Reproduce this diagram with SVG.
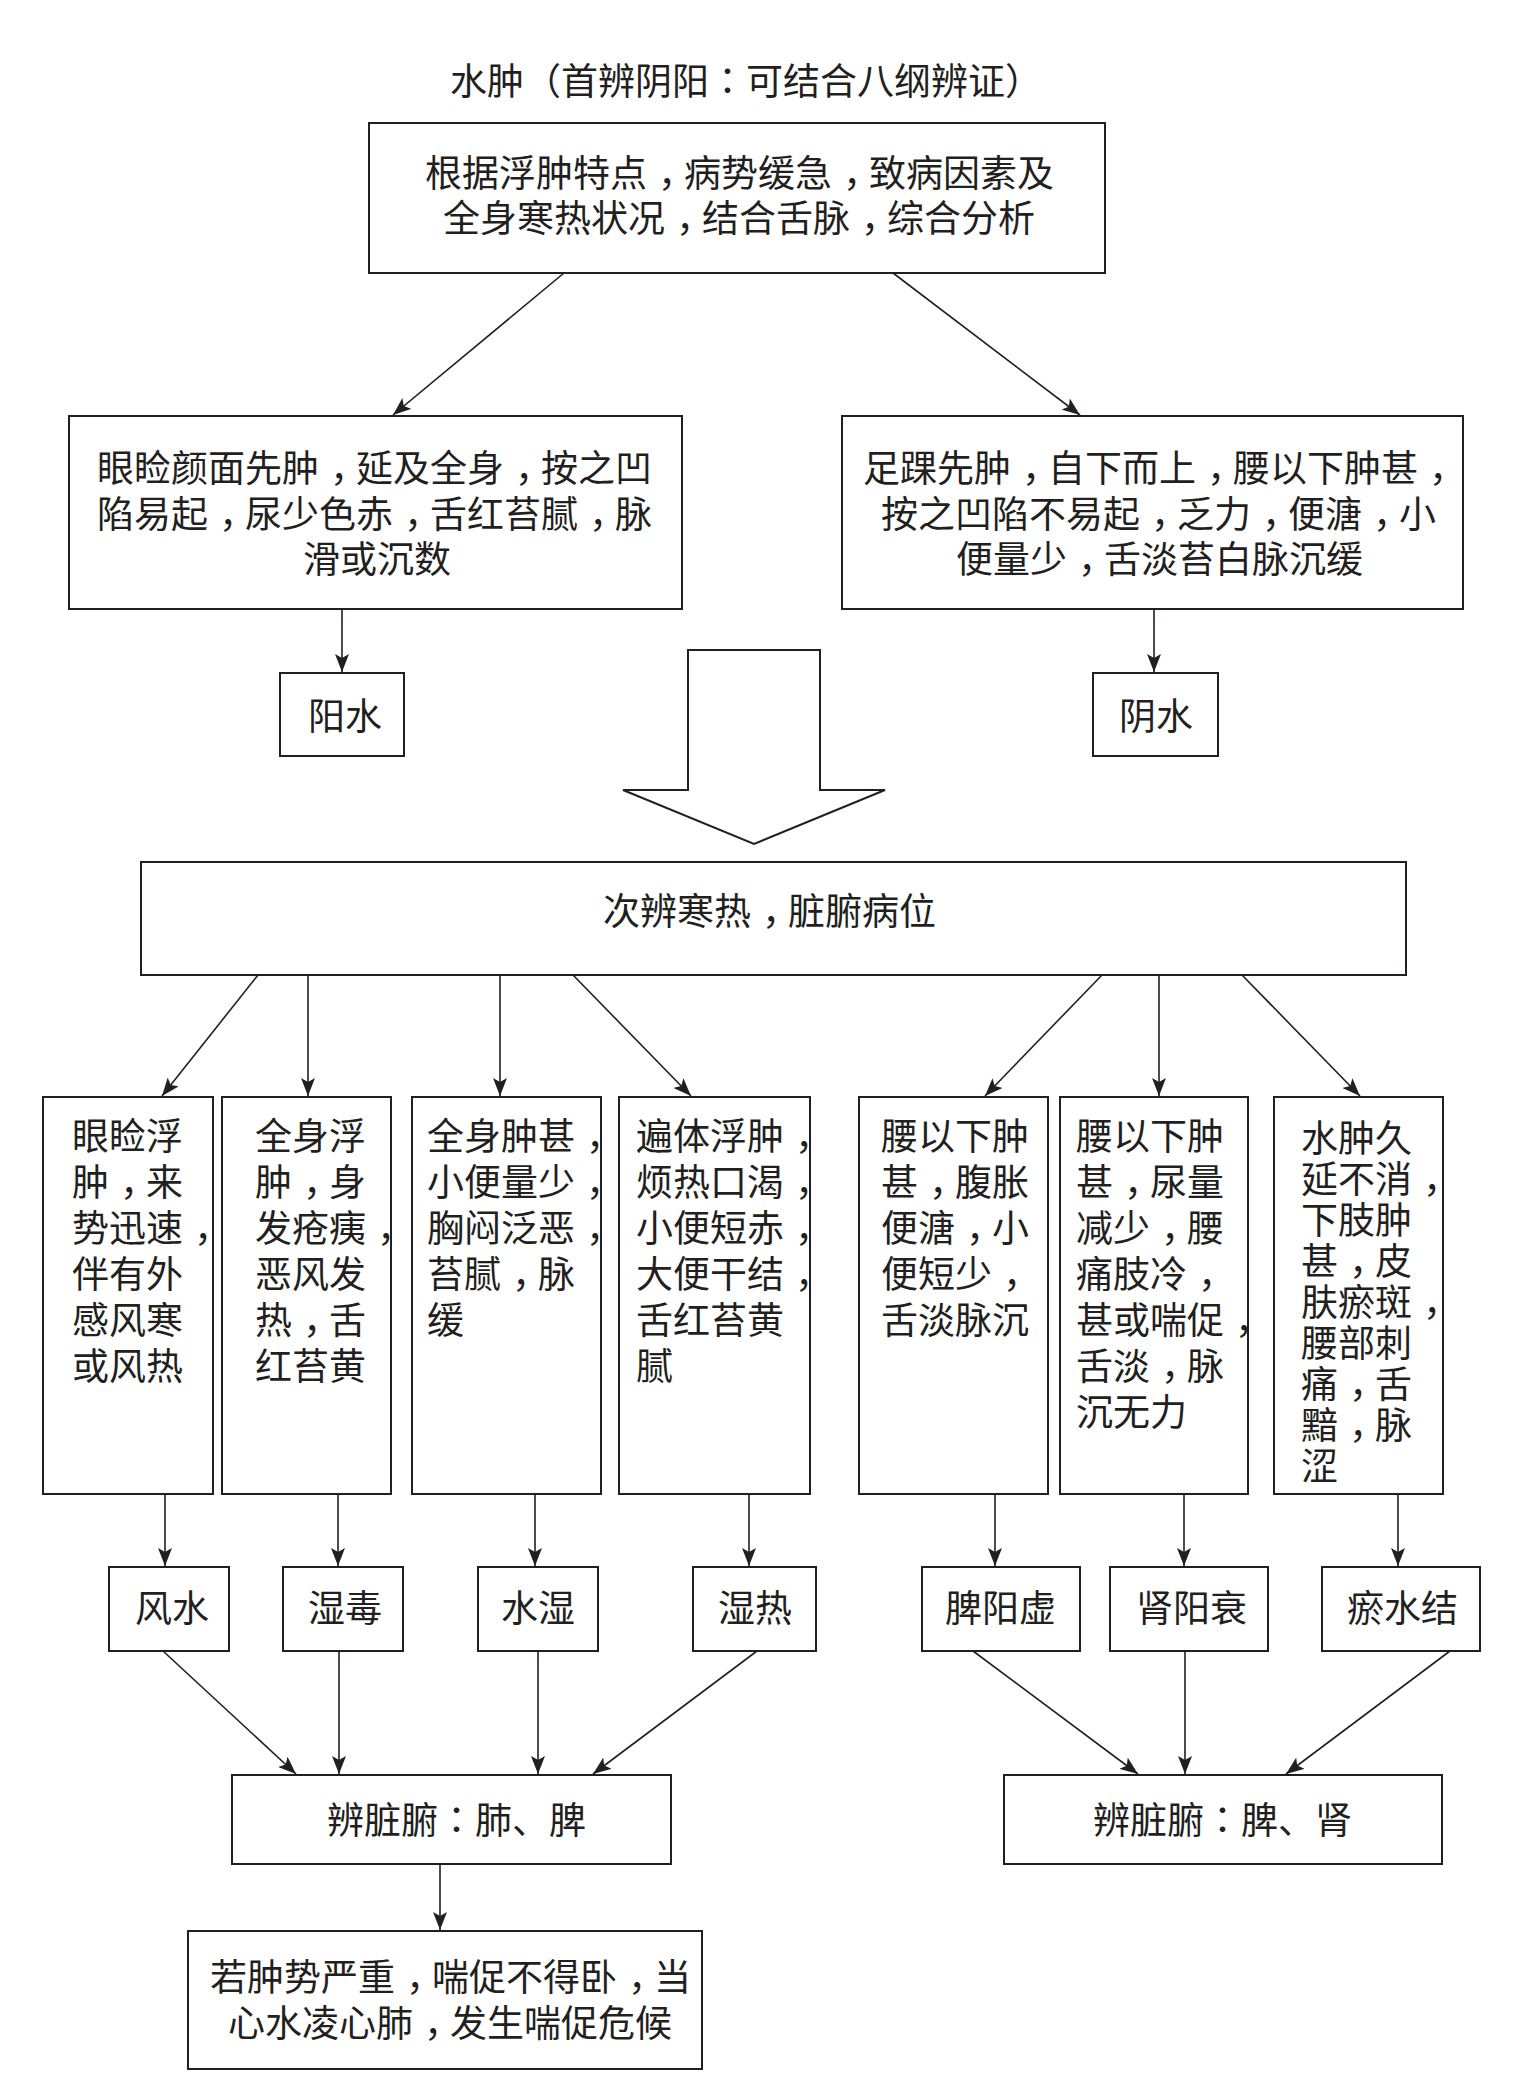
<svg xmlns="http://www.w3.org/2000/svg" width="1539" height="2100" viewBox="0 0 1539 2100">
<defs>
<marker id="ah" viewBox="0 0 18 14" refX="18" refY="7" markerWidth="18" markerHeight="14" markerUnits="userSpaceOnUse" orient="auto">
<path d="M0,0 L18,7 L0,14 L4,7 z" fill="#231f20"/>
</marker>
<style>
.box{fill:#ffffff;stroke:#231f20;stroke-width:2}
.t{font-family:"Noto Sans CJK SC","Noto Sans",sans-serif;font-size:37px;fill:#231f20}
.p{font-family:"Noto Sans CJK TC","Noto Sans CJK SC",sans-serif}
.c line{stroke:#231f20;stroke-width:1.6;marker-end:url(#ah)}
</style>
</defs>
<rect width="1539" height="2100" fill="#ffffff"/>

<text class="t" x="450" y="95">水肿（首辨阴阳<tspan class="p">：</tspan>可结合八纲辨证）</text>

<g id="n-top">
<rect class="box" x="369" y="123" width="736" height="150"/>
<text class="t"><tspan x="425" y="187">根据浮肿特点<tspan dx="11">，</tspan><tspan dx="-11">病</tspan>势缓急<tspan dx="11">，</tspan><tspan dx="-11">致</tspan>病因素及</tspan><tspan x="443" y="232">全身寒热状况<tspan dx="11">，</tspan><tspan dx="-11">结</tspan>合舌脉<tspan dx="11">，</tspan><tspan dx="-11">综</tspan>合分析</tspan></text>
</g>

<g id="n-yang-desc">
<rect class="box" x="69" y="416" width="613" height="193"/>
<text class="t"><tspan x="97" y="482">眼睑颜面先肿<tspan dx="11">，</tspan><tspan dx="-11">延</tspan>及全身<tspan dx="11">，</tspan><tspan dx="-11">按</tspan>之凹</tspan><tspan x="97" y="528">陷易起<tspan dx="11">，</tspan><tspan dx="-11">尿</tspan>少色赤<tspan dx="11">，</tspan><tspan dx="-11">舌</tspan>红苔腻<tspan dx="11">，</tspan><tspan dx="-11">脉</tspan></tspan><tspan x="303" y="573">滑或沉数</tspan></text>
</g>

<g id="n-yin-desc">
<rect class="box" x="842" y="416" width="621" height="193"/>
<text class="t"><tspan x="863" y="482">足踝先肿<tspan dx="11">，</tspan><tspan dx="-11">自</tspan>下而上<tspan dx="11">，</tspan><tspan dx="-11">腰</tspan>以下肿甚<tspan dx="11">，</tspan></tspan><tspan x="881" y="528">按之凹陷不易起<tspan dx="11">，</tspan><tspan dx="-11">乏</tspan>力<tspan dx="11">，</tspan><tspan dx="-11">便</tspan>溏<tspan dx="11">，</tspan><tspan dx="-11">小</tspan></tspan><tspan x="956" y="573">便量少<tspan dx="11">，</tspan><tspan dx="-11">舌</tspan>淡苔白脉沉缓</tspan></text>
</g>

<g id="n-yang">
<rect class="box" x="280" y="673" width="124" height="83"/>
<text class="t" x="308" y="730">阳水</text>
</g>

<g id="n-yin">
<rect class="box" x="1093" y="673" width="125" height="83"/>
<text class="t" x="1119" y="730">阴水</text>
</g>

<g id="big-arrow">
<polygon points="688,650 820,650 820,790 885,790 754,844 623,790 688,790" fill="#ffffff" stroke="#231f20" stroke-width="2" stroke-linejoin="miter"/>
</g>

<g id="n-second">
<rect class="box" x="141" y="862" width="1265" height="113"/>
<text class="t" x="603" y="925">次辨寒热<tspan dx="11">，</tspan><tspan dx="-11">脏</tspan>腑病位</text>
</g>

<g id="n-b1">
<rect class="box" x="43" y="1097" width="170" height="397"/>
<text class="t"><tspan x="72" y="1150">眼睑浮</tspan><tspan x="72" y="1196">肿<tspan dx="11">，</tspan><tspan dx="-11">来</tspan></tspan><tspan x="72" y="1242">势迅速<tspan dx="11">，</tspan></tspan><tspan x="72" y="1288">伴有外</tspan><tspan x="72" y="1334">感风寒</tspan><tspan x="72" y="1380">或风热</tspan></text>
</g>

<g id="n-b2">
<rect class="box" x="222" y="1097" width="169" height="397"/>
<text class="t"><tspan x="255" y="1150">全身浮</tspan><tspan x="255" y="1196">肿<tspan dx="11">，</tspan><tspan dx="-11">身</tspan></tspan><tspan x="255" y="1242">发疮痍<tspan dx="11">，</tspan></tspan><tspan x="255" y="1288">恶风发</tspan><tspan x="255" y="1334">热<tspan dx="11">，</tspan><tspan dx="-11">舌</tspan></tspan><tspan x="255" y="1380">红苔黄</tspan></text>
</g>

<g id="n-b3">
<rect class="box" x="412" y="1097" width="189" height="397"/>
<text class="t"><tspan x="427" y="1150">全身肿甚<tspan dx="11">，</tspan></tspan><tspan x="427" y="1196">小便量少<tspan dx="11">，</tspan></tspan><tspan x="427" y="1242">胸闷泛恶<tspan dx="11">，</tspan></tspan><tspan x="427" y="1288">苔腻<tspan dx="11">，</tspan><tspan dx="-11">脉</tspan></tspan><tspan x="427" y="1334">缓</tspan></text>
</g>

<g id="n-b4">
<rect class="box" x="619" y="1097" width="191" height="397"/>
<text class="t"><tspan x="636" y="1150">遍体浮肿<tspan dx="11">，</tspan></tspan><tspan x="636" y="1196">烦热口渴<tspan dx="11">，</tspan></tspan><tspan x="636" y="1242">小便短赤<tspan dx="11">，</tspan></tspan><tspan x="636" y="1288">大便干结<tspan dx="11">，</tspan></tspan><tspan x="636" y="1334">舌红苔黄</tspan><tspan x="636" y="1380">腻</tspan></text>
</g>

<g id="n-b5">
<rect class="box" x="859" y="1097" width="189" height="397"/>
<text class="t"><tspan x="881" y="1150">腰以下肿</tspan><tspan x="881" y="1196">甚<tspan dx="11">，</tspan><tspan dx="-11">腹</tspan>胀</tspan><tspan x="881" y="1242">便溏<tspan dx="11">，</tspan><tspan dx="-11">小</tspan></tspan><tspan x="881" y="1288">便短少<tspan dx="11">，</tspan></tspan><tspan x="881" y="1334">舌淡脉沉</tspan></text>
</g>

<g id="n-b6">
<rect class="box" x="1060" y="1097" width="188" height="397"/>
<text class="t"><tspan x="1076" y="1150">腰以下肿</tspan><tspan x="1076" y="1196">甚<tspan dx="11">，</tspan><tspan dx="-11">尿</tspan>量</tspan><tspan x="1076" y="1242">减少<tspan dx="11">，</tspan><tspan dx="-11">腰</tspan></tspan><tspan x="1076" y="1288">痛肢冷<tspan dx="11">，</tspan></tspan><tspan x="1076" y="1334">甚或喘促<tspan dx="11">，</tspan></tspan><tspan x="1076" y="1380">舌淡<tspan dx="11">，</tspan><tspan dx="-11">脉</tspan></tspan><tspan x="1076" y="1426">沉无力</tspan></text>
</g>

<g id="n-b7">
<rect class="box" x="1274" y="1097" width="169" height="397"/>
<text class="t"><tspan x="1301" y="1152">水肿久</tspan><tspan x="1301" y="1193">延不消<tspan dx="11">，</tspan></tspan><tspan x="1301" y="1234">下肢肿</tspan><tspan x="1301" y="1275">甚<tspan dx="11">，</tspan><tspan dx="-11">皮</tspan></tspan><tspan x="1301" y="1316">肤瘀斑<tspan dx="11">，</tspan></tspan><tspan x="1301" y="1357">腰部刺</tspan><tspan x="1301" y="1398">痛<tspan dx="11">，</tspan><tspan dx="-11">舌</tspan></tspan><tspan x="1301" y="1439">黯<tspan dx="11">，</tspan><tspan dx="-11">脉</tspan></tspan><tspan x="1301" y="1480">涩</tspan></text>
</g>

<g id="n-fengshui">
<rect class="box" x="109" y="1567" width="120" height="84"/>
<text class="t" x="135" y="1622">风水</text>
</g>
<g id="n-shidu">
<rect class="box" x="283" y="1567" width="120" height="84"/>
<text class="t" x="308" y="1622">湿毒</text>
</g>
<g id="n-shuishi">
<rect class="box" x="478" y="1567" width="120" height="84"/>
<text class="t" x="501" y="1622">水湿</text>
</g>
<g id="n-shire">
<rect class="box" x="693" y="1567" width="123" height="84"/>
<text class="t" x="718" y="1622">湿热</text>
</g>
<g id="n-piyangxu">
<rect class="box" x="922" y="1567" width="158" height="84"/>
<text class="t" x="945" y="1622">脾阳虚</text>
</g>
<g id="n-shenyangshuai">
<rect class="box" x="1110" y="1567" width="158" height="84"/>
<text class="t" x="1136" y="1622">肾阳衰</text>
</g>
<g id="n-yushuijie">
<rect class="box" x="1322" y="1567" width="158" height="84"/>
<text class="t" x="1347" y="1622">瘀水结</text>
</g>

<g id="n-feipi">
<rect class="box" x="232" y="1775" width="439" height="89"/>
<text class="t" x="327" y="1834">辨脏腑<tspan class="p">：</tspan>肺、脾</text>
</g>
<g id="n-pishen">
<rect class="box" x="1004" y="1775" width="438" height="89"/>
<text class="t" x="1093" y="1834">辨脏腑<tspan class="p">：</tspan>脾、肾</text>
</g>

<g id="n-final">
<rect class="box" x="188" y="1931" width="514" height="138"/>
<text class="t"><tspan x="210" y="1991">若肿势严重<tspan dx="11">，</tspan><tspan dx="-11">喘</tspan>促不得卧<tspan dx="11">，</tspan><tspan dx="-11">当</tspan></tspan><tspan x="228" y="2037">心水凌心肺<tspan dx="11">，</tspan><tspan dx="-11">发</tspan>生喘促危候</tspan></text>
</g>

<g id="connectors" class="c">
<line x1="564" y1="273" x2="393" y2="415"/>
<line x1="893" y1="273" x2="1080" y2="415"/>
<line x1="342" y1="609" x2="342" y2="672"/>
<line x1="1154" y1="609" x2="1154" y2="672"/>
<line x1="258" y1="975" x2="162" y2="1096"/>
<line x1="308" y1="975" x2="308" y2="1096"/>
<line x1="500" y1="975" x2="500" y2="1096"/>
<line x1="573" y1="975" x2="691" y2="1096"/>
<line x1="1102" y1="975" x2="985" y2="1096"/>
<line x1="1159" y1="975" x2="1159" y2="1096"/>
<line x1="1242" y1="975" x2="1360" y2="1096"/>
<line x1="165" y1="1494" x2="165" y2="1566"/>
<line x1="338" y1="1494" x2="338" y2="1566"/>
<line x1="535" y1="1494" x2="535" y2="1566"/>
<line x1="749" y1="1494" x2="749" y2="1566"/>
<line x1="995" y1="1494" x2="995" y2="1566"/>
<line x1="1184" y1="1494" x2="1184" y2="1566"/>
<line x1="1398" y1="1494" x2="1398" y2="1566"/>
<line x1="163" y1="1651" x2="296" y2="1774"/>
<line x1="339" y1="1651" x2="339" y2="1774"/>
<line x1="538" y1="1651" x2="538" y2="1774"/>
<line x1="757" y1="1651" x2="593" y2="1774"/>
<line x1="973" y1="1651" x2="1138" y2="1774"/>
<line x1="1185" y1="1651" x2="1185" y2="1774"/>
<line x1="1450" y1="1651" x2="1286" y2="1774"/>
<line x1="440" y1="1864" x2="440" y2="1930"/>
</g>
</svg>
